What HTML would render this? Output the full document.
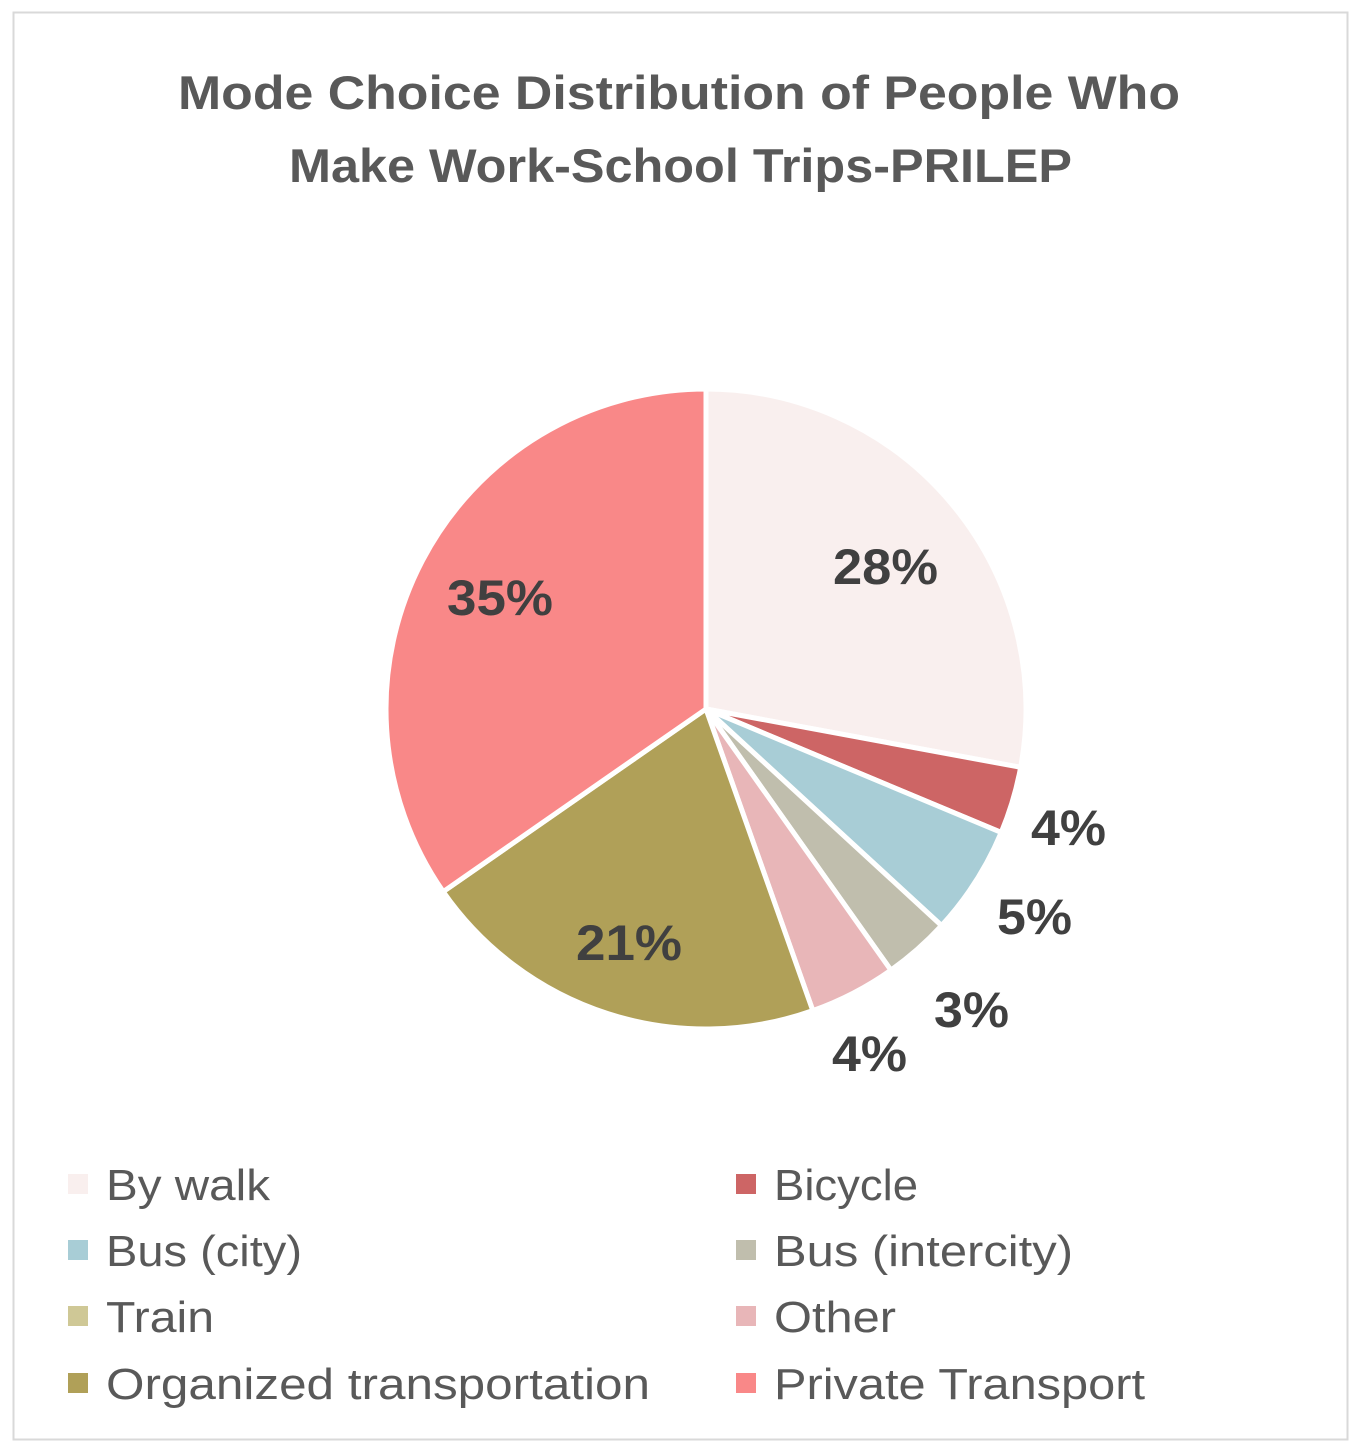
<!DOCTYPE html>
<html><head><meta charset="utf-8"><style>
html,body{margin:0;padding:0;background:#fff;}
</style></head><body>
<svg width="1358" height="1450" viewBox="0 0 1358 1450" xmlns="http://www.w3.org/2000/svg" style="display:block">
<rect x="13.5" y="12.5" width="1334" height="1427" fill="#fff" stroke="#d9d9d9" stroke-width="2"/>
<g font-family="Liberation Sans, sans-serif" font-weight="bold" fill="#595959" font-size="47">
<text x="178" y="109" textLength="1002" lengthAdjust="spacingAndGlyphs">Mode Choice Distribution of People Who</text>
<text x="289" y="182" textLength="783" lengthAdjust="spacingAndGlyphs">Make Work-School Trips-PRILEP</text>
</g>
<g stroke="#fff" stroke-width="5" stroke-linejoin="round" id="pie"></g>
<g font-family="Liberation Sans, sans-serif" font-weight="bold" fill="#404040" font-size="50">
<text x="833" y="584" textLength="105" lengthAdjust="spacingAndGlyphs">28%</text>
<text x="1031" y="845" textLength="75" lengthAdjust="spacingAndGlyphs">4%</text>
<text x="997" y="934" textLength="75" lengthAdjust="spacingAndGlyphs">5%</text>
<text x="934" y="1027" textLength="75" lengthAdjust="spacingAndGlyphs">3%</text>
<text x="832" y="1071" textLength="75" lengthAdjust="spacingAndGlyphs">4%</text>
<text x="576" y="960" textLength="106" lengthAdjust="spacingAndGlyphs">21%</text>
<text x="447" y="615" textLength="106" lengthAdjust="spacingAndGlyphs">35%</text>
</g>
<g font-family="Liberation Sans, sans-serif" fill="#595959" font-size="44">
<rect x="68" y="1174" width="20" height="20" fill="#F9EFEE"/><text x="106" y="1200" textLength="164" lengthAdjust="spacingAndGlyphs">By walk</text>
<rect x="736" y="1174" width="20" height="20" fill="#CD6565"/><text x="774" y="1200" textLength="144" lengthAdjust="spacingAndGlyphs">Bicycle</text>
<rect x="68" y="1240" width="20" height="20" fill="#A8CDD6"/><text x="106" y="1266" textLength="196" lengthAdjust="spacingAndGlyphs">Bus (city)</text>
<rect x="736" y="1240" width="20" height="20" fill="#C0BEAD"/><text x="774" y="1266" textLength="299" lengthAdjust="spacingAndGlyphs">Bus (intercity)</text>
<rect x="68" y="1306" width="20" height="20" fill="#CFC896"/><text x="106" y="1332" textLength="108" lengthAdjust="spacingAndGlyphs">Train</text>
<rect x="736" y="1306" width="20" height="20" fill="#E8B6B8"/><text x="774" y="1332" textLength="122" lengthAdjust="spacingAndGlyphs">Other</text>
<rect x="68" y="1373" width="20" height="20" fill="#B0A058"/><text x="106" y="1399" textLength="544" lengthAdjust="spacingAndGlyphs">Organized transportation</text>
<rect x="736" y="1373" width="20" height="20" fill="#F98888"/><text x="774" y="1399" textLength="371" lengthAdjust="spacingAndGlyphs">Private Transport</text>
</g>
<script>
(function(){
var cx=706,cy=709,r=320;
var s=[[0,100.5,"#F9EFEE"],[100.5,112.7,"#CD6565"],[112.7,132.6,"#A8CDD6"],[132.6,144.7,"#C0BEAD"],[144.7,160.5,"#E8B6B8"],[160.5,235.2,"#B0A058"],[235.2,360,"#F98888"]];
var g=document.getElementById("pie"),ns="http://www.w3.org/2000/svg";
function pt(a){a=a*Math.PI/180;return [cx+r*Math.sin(a),cy-r*Math.cos(a)];}
s.forEach(function(d){var p1=pt(d[0]),p2=pt(d[1]);var la=(d[1]-d[0])>180?1:0;
var p=document.createElementNS(ns,"path");
p.setAttribute("d","M"+cx+","+cy+" L"+p1[0]+","+p1[1]+" A"+r+","+r+" 0 "+la+" 1 "+p2[0]+","+p2[1]+" Z");
p.setAttribute("fill",d[2]);g.appendChild(p);});
})();
</script>
</svg>
</body></html>
